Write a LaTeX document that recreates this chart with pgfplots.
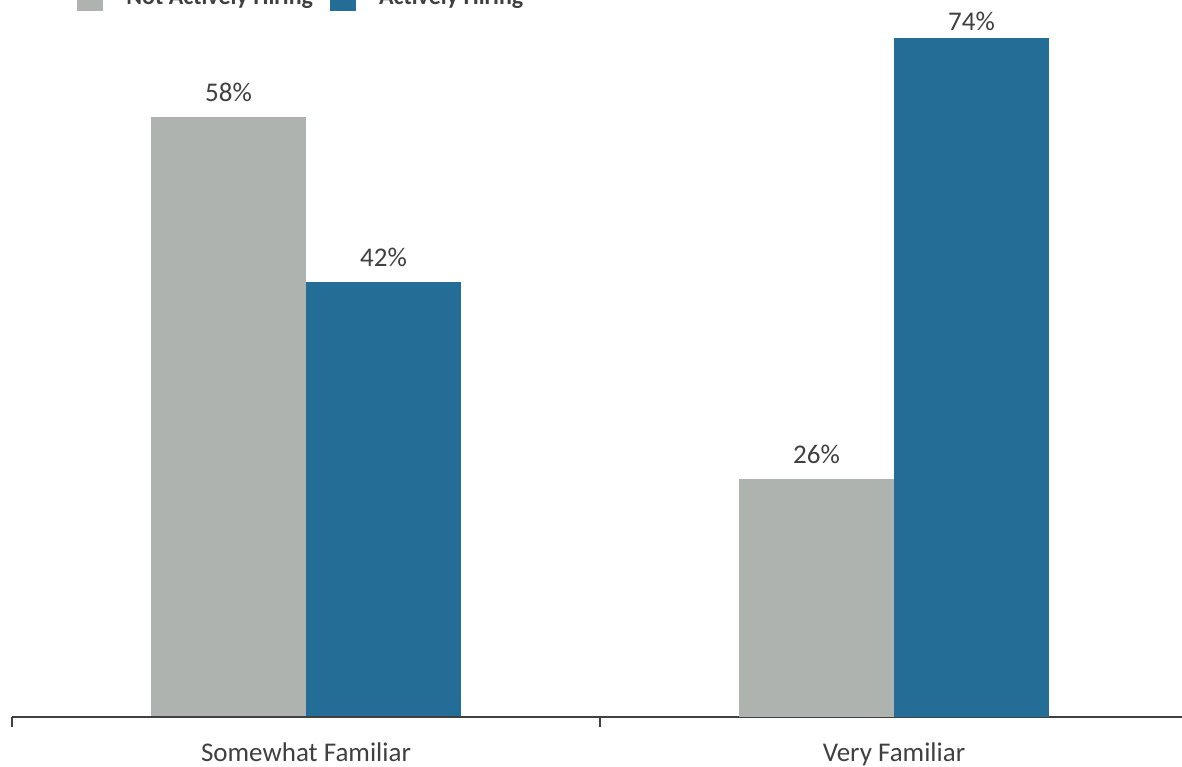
\documentclass[border=0pt]{standalone}
\usepackage{pgfplots}
\pgfplotsset{compat=1.18}
\usepackage{fontspec}
\setmainfont{Carlito}
\definecolor{barGray}{RGB}{175,179,176}
\definecolor{barBlue}{RGB}{35,109,151}
\definecolor{txt}{RGB}{64,64,64}
\pgfplotsset{
  sqlegend/.style={legend image code/.code={\fill[##1,draw=none] (0pt,-6.5pt) rectangle (13pt,6.5pt);}},
  common/.style={
    width=588pt, height=358.5pt, scale only axis,
    at={(0,0)}, anchor=south west,
    xmin=-0.5, xmax=1.5, ymin=0,
    ybar=0pt, bar width=77.5pt,
    /pgf/number format/assume math mode=true,
    nodes near coords={\pgfmathprintnumber{\pgfplotspointmeta}\%},
    every node near coord/.append style={font=\fontsize{13.5}{16}\selectfont, text=txt, inner sep=0pt, text depth=0pt, yshift=7.5pt},
  },
}
\begin{document}
\begin{tikzpicture}
\useasboundingbox (-6pt,-24.5pt) rectangle (585pt,358.5pt);
\clip (-6pt,-24.5pt) rectangle (585pt,358.5pt);
% Somewhat Familiar group
\begin{axis}[common, ymax=69.27, hide axis]
\addplot[fill=barGray, draw=none] coordinates {(0,58)};
\addplot[fill=barBlue, draw=none] coordinates {(0,42)};
\end{axis}
% Very Familiar group + axis, labels, legend
\begin{axis}[common, ymax=78.19,
  axis x line=bottom, axis y line=none,
  x axis line style={-, draw=txt, line width=1pt},
  xtick={0,1}, xticklabels={Somewhat Familiar, Very Familiar},
  major tick length=0pt,
  minor xtick={-0.5,0.5,1.5}, minor tick length=5pt, tick align=outside,
  minor tick style={draw=txt, line width=1pt},
  xticklabel style={font=\fontsize{13.5}{16}\selectfont, text=txt, anchor=base, inner sep=0pt, yshift=-22pt},
  legend columns=2,
  legend style={draw=none, fill=none, at={(rel axis cs:0.05527,1.003)}, anchor=west,
    font=\bfseries\fontsize{12}{14}\selectfont, text=txt, inner sep=0pt,
    /tikz/every odd column/.append style={column sep=9.5pt},
    /tikz/every even column/.append style={column sep=6.5pt}},
]
\addplot[fill=barGray, draw=none, sqlegend] coordinates {(1,26)};
\addplot[fill=barBlue, draw=none, sqlegend, every node near coord/.append style={yshift=-3.5pt}] coordinates {(1,74)};
\legend{Not Actively Hiring, Actively Hiring}
\end{axis}
\end{tikzpicture}
\end{document}
